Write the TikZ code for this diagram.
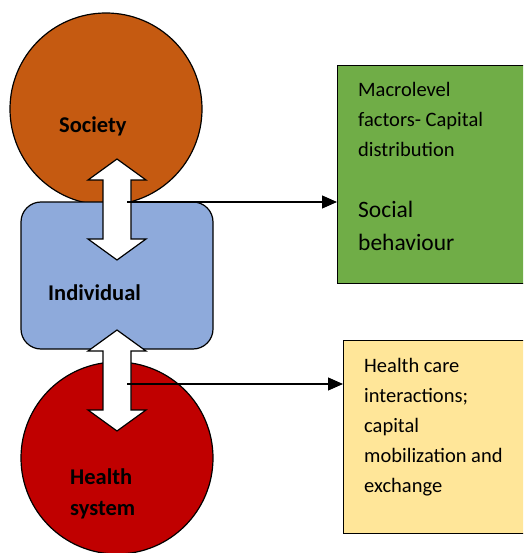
\documentclass[tikz,border=0pt]{standalone}
\usepackage{fontspec}
\setmainfont{Carlito}
\usepackage{tikz}
\usetikzlibrary{positioning}
\usetikzlibrary{arrows.meta}
\usepackage{xcolor}

\definecolor{socorange}{HTML}{C55A11}
\definecolor{indblue}{HTML}{8EAADB}
\definecolor{hsred}{HTML}{C00000}
\definecolor{macgreen}{HTML}{70AD47}
\definecolor{careyellow}{HTML}{FFE699}

\begin{document}
\begin{tikzpicture}[x=1pt, y=-1pt,
            blob/.style={circle, draw, line width=1.2pt, minimum size=192pt, inner sep=0pt},
            boldlbl/.style={font=\bfseries\fontsize{22.5}{31}\selectfont, anchor=base west, align=left, inner sep=0pt},
            boxtxt/.style={font=\fontsize{20.5}{30}\selectfont, anchor=base west, align=left, inner sep=0pt},
            updown/.style={draw, fill=white, line width=1.2pt, line join=miter},
            link/.style={-{Triangle[length=15pt, width=13pt]}, line width=1.2pt}]
            \path[use as bounding box, clip] (0,0) rectangle (523,553);

            % Circles and box
            \node[blob, fill=socorange] (society) at (106,109) {};
            \node[draw, line width=1.2pt, rounded corners=20pt, fill=indblue, minimum width=192pt, minimum height=147pt] (individual) at (117,275.5) {};
            \node[blob, fill=hsred] (health) at (117,458) {};

            % (base of a multi-line node = its last line)
            \node[boldlbl] (societytxt) at (59,133) {Society};
            \node[boldlbl] (individualtxt) at (48,300) {Individual};
            \node[boldlbl] (healthtxt) at (70,515) {Health\\system};

            % Boxes on the right (cut off by the page edge)
            \node[draw, line width=1.2pt, fill=macgreen, anchor=north west, minimum width=210pt, minimum height=218pt] (macro) at (337,65) {};
            \node[draw, line width=1.2pt, fill=careyellow, anchor=north west, minimum width=210pt, minimum height=193pt] (care) at (343,340) {};

            \node[boxtxt] (macrotxt) at (358,157) {Macrolevel\\factors- Capital\\distribution};
            \node[boxtxt, font=\fontsize{23.5}{33}\selectfont] (socialtxt) at (358,250) {Social\\behaviour};
            \node[boxtxt] (caretxt) at (364,492) {Health care\\interactions;\\capital\\mobilization and\\exchange};

            % Double arrows
            \draw[updown] (117,159) -- ++(29,21) -- ++(-15,0) -- ++(0,59) -- ++(15,0) -- ++(-29,21)
                -- ++(-29,-21) -- ++(15,0) -- ++(0,-59) -- ++(-15,0) -- cycle;
            \draw[updown] (117,330) -- ++(29,21) -- ++(-15,0) -- ++(0,59) -- ++(15,0) -- ++(-29,21)
                -- ++(-29,-21) -- ++(15,0) -- ++(0,-59) -- ++(-15,0) -- cycle;

            % Links to the boxes
            \coordinate (s1) at (127,202);
            \coordinate (s2) at (127,384);
            \draw[link] (s1) -- (s1 -| macro.west);
            \draw[link] (s2) -- (s2 -| care.west);
        \end{tikzpicture}
\end{document}
